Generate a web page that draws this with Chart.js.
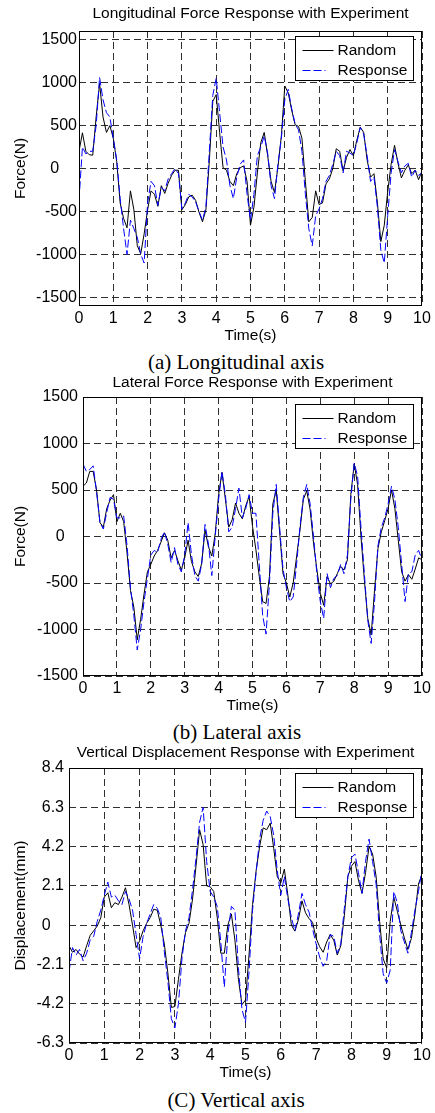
<!DOCTYPE html>
<html>
<head>
<meta charset="utf-8">
<script src="https://cdn.jsdelivr.net/npm/chart.js@4.4.1/dist/chart.umd.min.js"></script>
<style>
  body { margin: 0; background: #fff; width: 435px; height: 1113px; position: relative; overflow: hidden; }
  canvas { position: absolute; left: 0; }
  .caption {
    position: absolute;
    font-family: "Liberation Serif", "Times New Roman", serif;
    font-size: 21px;
    line-height: 1;
    color: #000;
    white-space: nowrap;
    transform: translate(-50%, -50%);
  }
</style>
</head>
<body>
<canvas id="chartLong" width="435" height="346" style="top:0px"></canvas>
<div class="caption" style="left:236px; top:362px">(a) Longitudinal axis</div>
<canvas id="chartLat" width="435" height="350" style="top:366px"></canvas>
<div class="caption" style="left:237px; top:732px">(b) Lateral axis</div>
<canvas id="chartVert" width="435" height="346" style="top:737px"></canvas>
<div class="caption" style="left:236px; top:1100px">(C) Vertical axis</div>

<script>
// sample times (s)
const timeSec = [
  0, 0.1, 0.2, 0.3, 0.4, 0.5, 0.6, 0.7, 0.8, 0.9,
  1, 1.1, 1.2, 1.3, 1.4, 1.5, 1.6, 1.7, 1.8, 1.9,
  2, 2.1, 2.2, 2.3, 2.4, 2.5, 2.6, 2.7, 2.8, 2.9,
  3, 3.1, 3.2, 3.3, 3.4, 3.5, 3.6, 3.7, 3.8, 3.9,
  4, 4.1, 4.2, 4.3, 4.4, 4.5, 4.6, 4.7, 4.8, 4.9,
  5, 5.1, 5.2, 5.3, 5.4, 5.5, 5.6, 5.7, 5.8, 5.9,
  6, 6.1, 6.2, 6.3, 6.4, 6.5, 6.6, 6.7, 6.8, 6.9,
  7, 7.1, 7.2, 7.3, 7.4, 7.5, 7.6, 7.7, 7.8, 7.9,
  8, 8.1, 8.2, 8.3, 8.4, 8.5, 8.6, 8.7, 8.8, 8.9,
  9, 9.1, 9.2, 9.3, 9.4, 9.5, 9.6, 9.7, 9.8, 9.9,
  10
];
const timeTicks = [0, 1, 2, 3, 4, 5, 6, 7, 8, 9, 10];

// longitudinal force (N)
const longRandom = [
  200, 415, 200, 160, 155, 600, 990, 600, 420, 500,
  350, 80, -400, -580, -690, -260, -480, -900, -990, -760,
  -480, -260, -300, -440, -200, -290, -170, -80, -20, -20,
  -480, -420, -330, -310, -370, -510, -620, -480, 90, 780,
  860, 420, 10, -20, -150, -200, -60, 10, 30, -150,
  -660, -450, -50, 300, 420, 150, -150, -280, 20, 380,
  960, 880, 680, 510, 490, 350, -150, -620, -570, -260,
  -420, -400, -180, -120, 0, 230, 200, -30, 130, 220,
  150, 330, 480, 420, 100, -100, -60, -400, -850, -660,
  -270, 50, 270, 60, -110, -20, 40, -60, -20, -130,
  -30
];
const longResponse = [
  -370, 250, 170, 200, 200, 500, 1060, 800, 650, 600,
  350, 100, -350, -700, -1000, -600, -700, -800, -1000, -1100,
  -400, -150, -200, -430, -220, -260, -120, -60, 0, -60,
  -470, -400, -300, -330, -390, -500, -600, -450, 200, 850,
  1050, 650, 250, 100, -200, -350, -100, 50, 100, -300,
  -600, -300, 150, 250, 380, 180, -200, -350, 50, 350,
  800, 920, 700, 520, 450, 200, -300, -700, -900, -550,
  -470, -350, -150, -80, 50, 200, 150, -50, 200, 180,
  150, 300, 480, 400, 150, -150, -100, -450, -950, -1100,
  -550, -50, 220, 80, -50, 30, 60, -100, -20, -80,
  -50
];
const longTicks = [-1500, -1000, -500, 0, 500, 1000, 1500];

// lateral force (N)
const latRandom = [
  540, 576, 700, 700, 500, 150, 100, 300, 390, 450,
  160, 250, 160, -180, -580, -760, -1110, -890, -620, -380,
  -300, -210, -150, -60, 40, -40, -230, -150, -260, -360,
  -230, -40, -270, -380, -430, -290, 70, -110, -210, 30,
  450, 690, 400, 100, 180, 360, 250, 190, 330, 430,
  110, -140, -430, -700, -720, -430, 350, 500, 50, -400,
  -500, -650, -500, -220, 70, 400, 490, 290, -70, -360,
  -610, -740, -430, -510, -480, -400, -320, -360, -250, 450,
  780, 560, 0, -470, -880, -1060, -580, -130, 50, 170,
  300, 500, 300, -40, -380, -480, -410, -460, -350, -230,
  -250
];
const latResponse = [
  780, 700, 720, 760, 480, 150, 80, 260, 420, 400,
  200, 200, 220, -100, -550, -850, -1220, -1000, -700, -450,
  -200, -150, -170, -30, 50, -80, -280, -120, -300, -380,
  -200, 150, -200, -420, -480, -300, 130, -80, -420, 0,
  400, 700, 450, 50, 100, 300, 520, 200, 300, 450,
  250, 250, -300, -850, -1050, -500, 250, 560, 100, -350,
  -550, -700, -650, -300, 100, 420, 560, 350, 0, -400,
  -700, -880, -400, -550, -450, -420, -300, -400, -200, 400,
  790, 650, 100, -400, -900, -1150, -700, -100, 100, 200,
  350, 540, 400, 100, -300, -700, -400, -380, -200, -150,
  -250
];
const latTicks = [-1500, -1000, -500, 0, 500, 1000, 1500];

// vertical displacement (mm)
const vertRandom = [
  -1.1, -1.45, -1.3, -1.55, -1.7, -1.1, -0.55, -0.3, -0.05, 0.4,
  1.5, 1.73, 0.93, 1.2, 1.1, 1.5, 2.0, 1.1, 0.0, -1.2,
  -0.85, -0.3, 0.1, 0.4, 0.85, 0.8, 0.0, -1.0, -2.55, -4.4,
  -4.35, -2.9, -1.5, -0.4, 0.1, 1.4, 3.2, 5.1, 4.3, 2.1,
  2.05, 1.8, 0.4, -1.5, -1.5, 0.0, 0.6, -0.8, -2.9, -4.25,
  -4.0, -1.6, 1.1, 2.9, 4.2, 5.2, 5.1, 5.45, 4.1, 2.6,
  2.26, 3.0, 1.6, 0.0, -0.32, 0.3, 1.3, 0.66, 0.35, 0.15,
  -0.7, -1.15, -1.45, -0.9, -0.5, -0.8, -1.6, -1.1, 0.5, 2.6,
  3.15, 3.4, 2.4, 1.7, 2.8, 4.2, 3.8, 2.6, 0.2, -1.8,
  -2.28, 0.2, 1.5, 0.75, 0.0, -0.68, -1.3, -0.7, 0.6, 2.2,
  2.7
];
const vertResponse = [
  -2.5, -1.2, -1.6, -1.3, -1.9, -1.5, -0.8, -0.6, 0.2, 0.8,
  1.6, 2.3, 1.5, 1.6, 1.3, 1.1, 1.8, 1.4, 0.8, -0.5,
  -1.8, -0.6, 0.1, 0.6, 1.1, 0.9, 0.4, -1.4, -3.0, -5.0,
  -5.5, -4.2, -1.8, -0.3, 0.4, 1.9, 3.6, 5.5, 6.3, 3.4,
  1.8, 1.5, 1.0, -0.9, -3.3, -0.5, 1.0, 0.8, -2.3, -4.5,
  -5.2, -2.5, 0.8, 2.8, 4.6, 5.6, 6.1, 5.8, 4.8, 2.9,
  1.6, 2.6, 1.4, 0.4, -0.3, 0.6, 1.7, 1.1, 0.7, -0.2,
  -1.0, -1.7, -2.2, -1.9, -0.5, -0.6, -1.5, -1.0, 0.9, 2.6,
  3.6, 3.8, 2.8, 1.7, 3.4, 4.6, 3.4, 2.2, -0.5, -2.6,
  -3.1, -2.4, 1.8, 1.2, -0.3, -0.9, -1.5, -0.4, 0.8, 1.8,
  3.0
];
const vertTicks = [-6.3, -4.2, -2.1, 0, 2.1, 4.2, 6.3, 8.4];

const FONT = '"Liberation Sans", Arial, Helvetica, sans-serif';
const GRID_COLOR = '#303030';

function toPoints(values) {
  return values.map((v, i) => ({ x: timeSec[i], y: v }));
}

// black box around the plot area (axes box on all four sides)
const plotFrame = {
  id: 'plotFrame',
  afterDatasetsDraw(chart) {
    const { ctx, chartArea } = chart;
    const l = Math.round(chartArea.left) + 0.5;
    const t = Math.round(chartArea.top) + 0.5;
    const r = Math.round(chartArea.right) - 0.5;
    const b = Math.round(chartArea.bottom) - 0.5;
    ctx.save();
    ctx.strokeStyle = '#000';
    ctx.lineWidth = 1;
    ctx.setLineDash([]);
    ctx.strokeRect(l, t, r - l, b - t);
    ctx.restore();
  }
};

// boxed key in the upper right corner of the plot
const lineKey = {
  id: 'lineKey',
  afterDraw(chart, args, opts) {
    const { ctx, chartArea } = chart;
    const w = 118, h = 44;
    const x0 = Math.round(chartArea.right - 9 - w) + 0.5;
    const y0 = Math.round(chartArea.top + opts.top) + 0.5;
    ctx.save();
    ctx.fillStyle = '#fff';
    ctx.fillRect(x0, y0, w, h);
    ctx.strokeStyle = '#000';
    ctx.lineWidth = 1;
    ctx.setLineDash([]);
    ctx.strokeRect(x0, y0, w, h);
    ctx.font = '15.5px ' + FONT;
    ctx.textBaseline = 'middle';
    ctx.textAlign = 'left';
    chart.data.datasets.forEach((ds, i) => {
      const y = Math.round(y0 + 13 + i * 20) + 0.5;
      ctx.strokeStyle = ds.borderColor;
      ctx.setLineDash(ds.borderDash || []);
      ctx.beginPath();
      ctx.moveTo(x0 + 7, y);
      ctx.lineTo(x0 + (ds.borderDash ? 30 : 38), y);
      ctx.stroke();
      ctx.fillStyle = '#000';
      ctx.fillText(ds.label, x0 + 42, y);
    });
    ctx.restore();
  }
};

function renderPanel(canvasId, panel) {
  const canvas = document.getElementById(canvasId);
  const ctx = canvas.getContext('2d');
  const titleLine = 15.5 * 1.2;

  return new Chart(ctx, {
    type: 'line',
    data: {
      datasets: [
        {
          label: 'Random',
          data: toPoints(panel.random),
          borderColor: '#000000',
          borderWidth: 1,
          pointRadius: 0,
          tension: 0,
          order: 1,
        },
        {
          label: 'Response',
          data: toPoints(panel.response),
          borderColor: '#0000ff',
          borderWidth: 1,
          borderDash: [8, 3],
          pointRadius: 0,
          tension: 0,
          order: 0,
        },
      ],
    },
    options: {
      responsive: false,
      animation: false,
      devicePixelRatio: 1,
      layout: { padding: { left: 0, right: 13, top: 0, bottom: 0 } },
      plugins: {
        legend: { display: false },
        tooltip: { enabled: false },
        title: {
          display: true,
          text: panel.title,
          fullSize: false,
          color: '#000',
          font: { family: FONT, size: 15.5, weight: 'normal' },
          padding: { top: panel.titleTop, bottom: 31 - panel.titleTop - titleLine },
        },
        lineKey: { top: panel.keyTop },
      },
      scales: {
        x: {
          type: 'linear',
          min: 0,
          max: 10,
          afterBuildTicks: (scale) => {
            scale.ticks = timeTicks.map((v) => ({ value: v }));
          },
          afterFit: (scale) => {
            scale.height = 40;
          },
          ticks: {
            padding: 2.5,
            color: '#000',
            maxRotation: 0,
            autoSkip: false,
            font: { family: FONT, size: 16 },
          },
          grid: { color: GRID_COLOR, lineWidth: 1, drawTicks: false },
          border: { display: false, dash: [7, 4] },
          title: {
            display: true,
            text: 'Time(s)',
            color: '#000',
            font: { family: FONT, size: 15.5 },
            padding: { top: 0, bottom: 0.7 },
          },
        },
        y: {
          min: panel.yMin,
          max: panel.yMax,
          afterBuildTicks: (scale) => {
            scale.ticks = panel.yTicks.map((v) => ({ value: v }));
          },
          afterFit: (scale) => {
            scale.width = panel.left;
          },
          ticks: {
            padding: panel.tickPad,
            color: '#000',
            font: { family: FONT, size: 16 },
            callback: (v) => (v === 0 ? '0' + panel.zeroPad : String(v)),
          },
          grid: { color: GRID_COLOR, lineWidth: 1, drawTicks: false },
          border: { display: false, dash: [7, 4] },
          title: {
            display: true,
            text: panel.yTitle,
            color: '#000',
            font: { family: FONT, size: 15.5 },
            padding: { top: 21 - titleLine / 2, bottom: 0 },
          },
        },
      },
    },
    plugins: [plotFrame, lineKey],
  });
}

renderPanel('chartLong', {
  title: 'Longitudinal Force Response with Experiment',
  yTitle: 'Force(N)',
  random: longRandom,
  response: longResponse,
  yTicks: longTicks,
  yMin: -1600,
  yMax: 1600,
  left: 79,
  tickPad: 2,
  zeroPad: '    ',
  titleTop: 4.7,
  keyTop: 5,
});

renderPanel('chartLat', {
  title: 'Lateral Force Response with Experiment',
  yTitle: 'Force(N)',
  random: latRandom,
  response: latResponse,
  yTicks: latTicks,
  yMin: -1500,
  yMax: 1500,
  left: 83,
  tickPad: 5,
  zeroPad: '   ',
  titleTop: 7.7,
  keyTop: 7,
});

renderPanel('chartVert', {
  title: 'Vertical Displacement Response with Experiment',
  yTitle: 'Displacement(mm)',
  random: vertRandom,
  response: vertResponse,
  yTicks: vertTicks,
  yMin: -6.3,
  yMax: 8.4,
  left: 69,
  tickPad: 5,
  zeroPad: '   ',
  titleTop: 6.4,
  keyTop: 5,
});
</script>
</body>
</html>
